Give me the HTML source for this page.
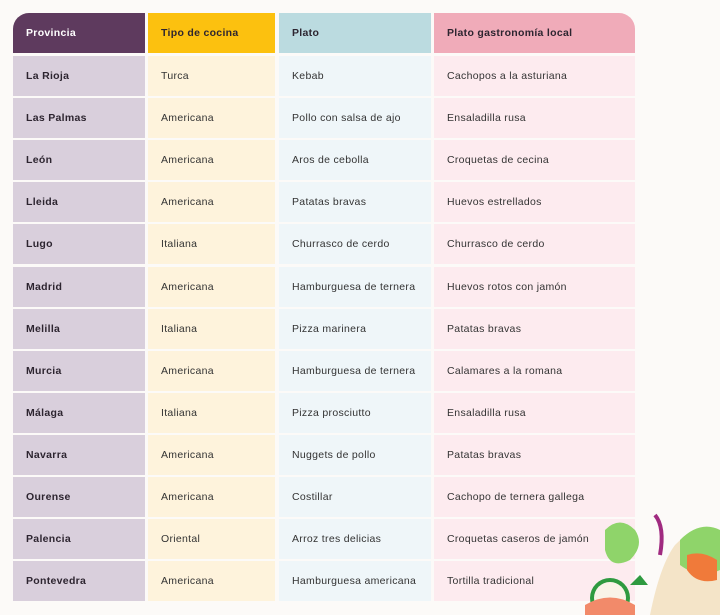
<!DOCTYPE html>
<html><head><meta charset="utf-8"><style>
body{margin:0;width:720px;height:615px;background:#fcfaf8;position:relative;overflow:hidden;font-family:"Liberation Sans",sans-serif;}
.c{position:absolute;box-sizing:border-box;padding-left:13px;display:flex;align-items:center;font-size:10.5px;letter-spacing:0.3px;color:#333;}
.h{font-weight:bold;color:#2d2530;height:40px;top:13px}
</style></head><body>
<div class="c h" style="left:13px;width:132px;background:#5e3a5e;color:#fff;border-top-left-radius:16px">Provincia</div>
<div class="c h" style="left:148px;width:127px;background:#fcc10f">Tipo de cocina</div>
<div class="c h" style="left:279px;width:152px;background:#bbdbe0">Plato</div>
<div class="c h" style="left:434px;width:201px;background:#f0abb9;border-top-right-radius:16px">Plato gastronomía local</div>
<div id="rows"></div>
<svg style="position:absolute;left:575px;top:510px" width="145" height="105" viewBox="0 0 145 105">
<path d="M30 20 q15-15 30 0 q10 15-5 30 q-20 10-25-10z" fill="#8fd46a"/>
<path d="M80 5 q10 12 5 40" stroke="#a02a80" stroke-width="4" fill="none"/>
<path d="M100 35 q25-25 45-15 v85 h-70 q10-50 25-70z" fill="#f4e4c8"/>
<path d="M105 30 q20-20 40-10 v40 q-20 10-40-5z" fill="#8fd46a"/>
<path d="M112 45 q15-5 30 5 v20 q-20 5-30-10z" fill="#f07a3a"/>
<circle cx="35" cy="88" r="20" fill="#2e9a40"/>
<circle cx="35" cy="88" r="16" fill="#f9f3e8"/>
<path d="M10 95 q25-15 50 0 v10 h-50z" fill="#f28a6a"/>
<path d="M55 75 l10-10 l8 10z" fill="#2e9a40"/>
</svg>
<script>
var d=[["La Rioja","Turca","Kebab","Cachopos a la asturiana"],["Las Palmas","Americana","Pollo con salsa de ajo","Ensaladilla rusa"],["León","Americana","Aros de cebolla","Croquetas de cecina"],["Lleida","Americana","Patatas bravas","Huevos estrellados"],["Lugo","Italiana","Churrasco de cerdo","Churrasco de cerdo"],["Madrid","Americana","Hamburguesa de ternera","Huevos rotos con jamón"],["Melilla","Italiana","Pizza marinera","Patatas bravas"],["Murcia","Americana","Hamburguesa de ternera","Calamares a la romana"],["Málaga","Italiana","Pizza prosciutto","Ensaladilla rusa"],["Navarra","Americana","Nuggets de pollo","Patatas bravas"],["Ourense","Americana","Costillar","Cachopo de ternera gallega"],["Palencia","Oriental","Arroz tres delicias","Croquetas caseros de jamón"],["Pontevedra","Americana","Hamburguesa americana","Tortilla tradicional"]];
var L=[13,148,279,434],W=[132,127,152,201],B=["#d9cfdc","#fef3dc","#eff6f9","#fdebef"],h="";
d.forEach(function(r,i){var t=Math.round(56+i*42.1);r.forEach(function(v,j){h+='<div class="c" style="left:'+L[j]+'px;width:'+W[j]+'px;top:'+t+'px;height:40px;background:'+B[j]+(j==0?';font-weight:bold;color:#2d2530':'')+'">'+v+'</div>';});});
document.getElementById("rows").innerHTML=h;
</script>
</body></html>
